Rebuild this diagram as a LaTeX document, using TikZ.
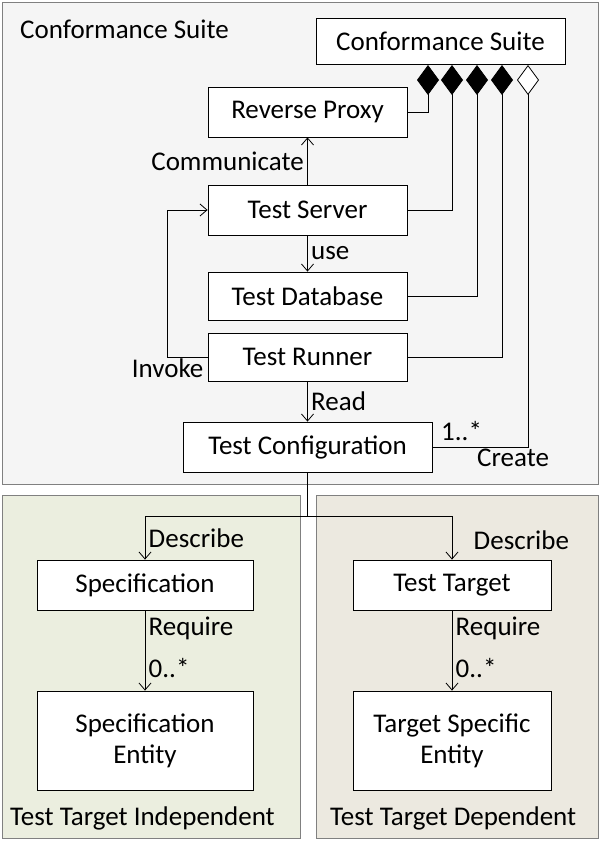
\documentclass[tikz,border=0pt]{standalone}
\usepackage{fontspec}
\setmainfont{Carlito}
\usetikzlibrary{arrows.meta}
\definecolor{suitebg}{HTML}{F5F5F5}
\definecolor{indepbg}{HTML}{EBEEDF}
\definecolor{depbg}{HTML}{ECE9E0}
\tikzset{
  box/.style={draw,thick,fill=white,align=center,inner sep=0pt},
  arr/.style={thick,-{Straight Barb[length=7pt,width=12pt]}},
  comp/.style={thick,-{Diamond[length=30pt,width=22pt,fill=black]}},
  aggr/.style={thick,-{Diamond[length=30pt,width=22pt,open,fill=white]}}
}
\begin{document}
\begin{tikzpicture}[x=1pt,y=-1pt,font=\fontsize{27}{30}\selectfont]
\useasboundingbox (0,0) rectangle (602,842);
\draw[gray,fill=suitebg] (2,2) rectangle (598,484);
\draw[gray,fill=indepbg] (2,495) rectangle (300,838);
\draw[gray,fill=depbg] (316,495) rectangle (598,838);
\node[anchor=north west,inner sep=0pt] (tsuite) at (20,20) {Conformance Suite};
\node[anchor=south west,inner sep=0pt] (tindep) at (10,830) {Test Target Independent};
\node[anchor=south west,inner sep=0pt] (tdep) at (330,830) {Test Target Dependent};

\node[box,minimum width=249pt,minimum height=46pt] (suite) at (440.5,41) {Conformance Suite};
\node[box,minimum width=199pt,minimum height=50pt] (proxy) at (307.5,112) {Reverse Proxy};
\node[box,minimum width=199pt,minimum height=50pt] (server) at (307.5,210) {Test Server};
\node[box,minimum width=199pt,minimum height=48pt] (db) at (307.5,296) {Test Database};
\node[box,minimum width=199pt,minimum height=48pt] (runner) at (307.5,357) {Test Runner};
\node[box,minimum width=249pt,minimum height=50pt] (config) at (307.5,447) {Test Configuration};
\node[box,minimum width=216pt,minimum height=50pt] (spec) at (145,585) {Specification};
\node[box,minimum width=216pt,minimum height=99pt] (specent) at (145,740.5) {Specification\\[1pt]Entity};
\node[box,minimum width=198pt,minimum height=50pt] (target) at (452,585) {Test Target};
\node[box,minimum width=198pt,minimum height=99pt] (targetent) at (452,740.5) {Target Specific\\[1pt]Entity};

% composition and aggregation
\coordinate (d1) at (428,64);
\coordinate (d2) at (452,64);
\coordinate (d3) at (477,64);
\coordinate (d4) at (502,64);
\coordinate (d5) at (528,64);
\draw[comp] (proxy.east) -| ([yshift=-1pt]d1);
\draw[comp] (server.east) -| ([yshift=-1pt]d2);
\draw[comp] (db.east) -| ([yshift=-1pt]d3);
\draw[comp] (runner.east) -| ([yshift=-1pt]d4);
\draw[aggr] (config.east) -| ([yshift=-1pt]d5);
\node[anchor=south west,inner sep=1pt] (mult) at (440,442) {1..*};
\node[anchor=north west,inner sep=1pt] (create) at (476,448) {Create};

% associations
\draw[arr] (server.north) -- node[left] {Communicate} (proxy.south);
\draw[arr] (server.south) -- node[right] {use} (db.north);
\draw[arr] (runner.south) -- node[right] {Read} (config.north);
\draw[arr] (runner.west) -- ++(-40,0) coordinate (inv) |- (server.west);
\node[anchor=north,inner sep=2pt] (invoke) at (inv) {Invoke};
\coordinate (split) at (307.5,516);
\draw[thick] (config.south) -- (split);
\draw[arr] (split) -| node[pos=0.75,right] {Describe} (spec.north);
\draw[arr] (split) -| node[pos=0.78,right,xshift=18pt] {Describe} (target.north);
\draw[arr] (spec.south) -- node[right,pos=0.22] {Require} node[right,pos=0.72] {0..*} (specent.north);
\draw[arr] (target.south) -- node[right,pos=0.22] {Require} node[right,pos=0.72] {0..*} (targetent.north);
\end{tikzpicture}
\end{document}
